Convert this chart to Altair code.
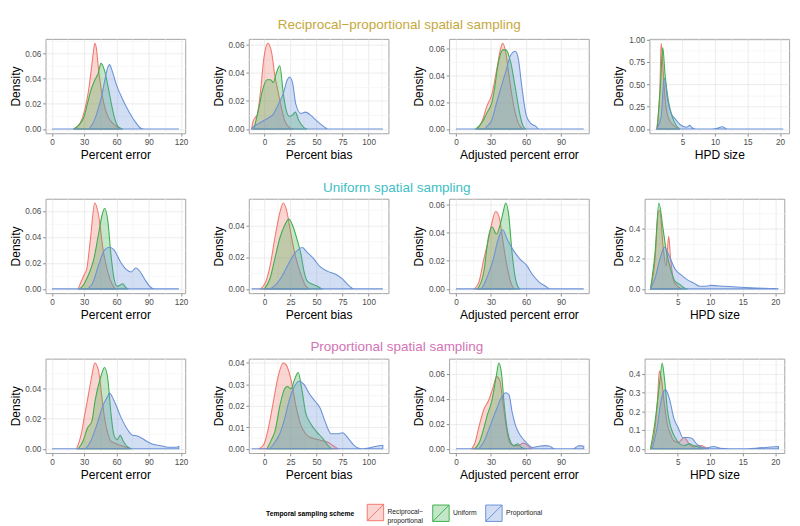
import altair as alt
import pandas as pd

FONT = "Liberation Sans"

SCHEMES = ["Reciprocal-proportional", "Uniform", "Proportional"]
COLORS = ["#F0776E", "#3DAE4C", "#6A91D8"]

ROW_TITLES = ["Reciprocal\u2212proportional spatial sampling",
              "Uniform spatial sampling",
              "Proportional spatial sampling"]
ROW_COLORS = ["#C6A83C", "#3EC0C6", "#D373B6"]

METRICS = ["Percent error", "Percent bias", "Adjusted percent error", "HPD size"]
X_DOMAINS = [[-5.9, 123.9], [-15.0, 119.0], [-5.9, 113.8], [-0.1, 21.4]]
X_TICKS = [[0, 30, 60, 90, 120], [0, 25, 50, 75, 100], [0, 30, 60, 90], [5, 10, 15, 20]]
X_MINOR = [[15, 45, 75, 105], [-12.5, 12.5, 37.5, 62.5, 87.5, 112.5],
           [15, 45, 75, 105], [2.5, 7.5, 12.5, 17.5]]

Y_TICKS = [
    [[0, 0.02, 0.04, 0.06], [0, 0.02, 0.04, 0.06], [0, 0.02, 0.04, 0.06], [0, 0.25, 0.5, 0.75, 1.0]],
    [[0, 0.02, 0.04, 0.06], [0, 0.02, 0.04], [0, 0.02, 0.04, 0.06], [0, 0.2, 0.4]],
    [[0, 0.02, 0.04], [0, 0.01, 0.02, 0.03, 0.04], [0, 0.02, 0.04, 0.06], [0, 0.1, 0.2, 0.3, 0.4]],
]
Y_FORMATS = [[".2f", ".2f", ".2f", ".2f"], [".2f", ".2f", ".2f", ".1f"], [".2f", ".2f", ".2f", ".1f"]]

# ---------- Row 1: reciprocal-proportional spatial sampling ----------
R1_ERR_RP = [(20, 0), (24, 0.002), (28, 0.008), (31, 0.017), (34, 0.030), (37, 0.050), (39, 0.064),
             (40, 0.068), (41.5, 0.063), (43, 0.050), (45, 0.036), (48, 0.021), (52, 0.010),
             (56, 0.005), (60, 0.002), (64, 0)]
R1_ERR_U = [(20, 0), (25, 0.003), (30, 0.010), (33, 0.020), (36, 0.030), (40, 0.039), (43, 0.044),
            (45.6, 0.052), (49, 0.046), (53, 0.030), (57, 0.013), (60, 0.004), (63, 0.001), (66, 0)]
R1_ERR_P = [(0, 0), (34, 0), (37, 0.003), (40, 0.008), (43, 0.016), (46, 0.025), (49, 0.038),
            (52, 0.049), (53.5, 0.051), (56, 0.046), (60, 0.035), (66, 0.023), (72, 0.013),
            (78, 0.005), (82, 0.001), (86, 0), (118, 0)]

R1_BIAS_RP = [(-12.3, 0), (-11, 0.005), (-9, 0.008), (-7, 0.010), (-3.7, 0.027), (-0.6, 0.050),
              (3.4, 0.061), (7, 0.054), (10, 0.038), (13, 0.027), (16, 0.016), (19.4, 0.006),
              (24, 0.001), (28, 0)]
R1_BIAS_U = [(-10, 0), (-5, 0.016), (-2, 0.027), (2.5, 0.035), (6, 0.035), (8.5, 0.033),
             (11.5, 0.040), (14.8, 0.045), (18, 0.026), (21, 0.013), (24, 0.009), (27, 0.010),
             (29.6, 0.012), (33, 0.006), (38, 0.001), (41, 0)]
R1_BIAS_P = [(-12.3, 0), (-10, 0.002), (-5, 0.004), (-0.6, 0.006), (4, 0.008), (8, 0.010),
             (13, 0.017), (18, 0.025), (22, 0.035), (24, 0.037), (27, 0.033), (30, 0.018),
             (35, 0.011), (39.5, 0.012), (44, 0.010), (50, 0.006), (56.5, 0.002), (61, 0), (113.6, 0)]

R1_ADJ_RP = [(18.4, 0), (22.4, 0.006), (26.5, 0.017), (30.8, 0.026), (34.6, 0.043), (38.6, 0.061),
             (40, 0.064), (42.7, 0.057), (45.4, 0.040), (49.5, 0.017), (53.5, 0.004), (57, 0)]
R1_ADJ_U = [(17, 0), (22.4, 0.005), (26.5, 0.012), (30.8, 0.020), (33, 0.030), (36, 0.048),
            (40, 0.059), (42.7, 0.059), (46.8, 0.050), (50.8, 0.031), (55, 0.010), (57.6, 0.002), (60, 0)]
R1_ADJ_P = [(0, 0), (24, 0), (26.5, 0.002), (30.8, 0.007), (34.6, 0.019), (38.6, 0.031),
            (42.7, 0.043), (46.8, 0.055), (50.8, 0.058), (53.5, 0.052), (56.2, 0.033),
            (60.3, 0.010), (64.3, 0.004), (68.4, 0.002), (71, 0), (109.5, 0)]

R1_HPD_RP = [(1.0, 0), (1.5, 0.43), (1.7, 0.96), (2.1, 0.54), (2.44, 0.25), (2.9, 0.11),
             (3.6, 0.04), (4.4, 0)]
R1_HPD_U = [(1.1, 0), (1.6, 0.5), (1.95, 0.91), (2.3, 0.61), (2.8, 0.32), (3.4, 0.14),
            (4.1, 0.03), (4.6, 0)]
R1_HPD_P = [(1.0, 0), (1.7, 0.14), (2.2, 0.57), (2.7, 0.32), (3.2, 0.18), (3.9, 0.11), (4.6, 0.05),
            (5.6, 0.02), (6.1, 0.04), (6.5, 0.01), (7, 0), (9.6, 0), (10.2, 0.005), (11.1, 0.025),
            (11.9, 0), (20.5, 0)]

# ---------- Row 2: uniform spatial sampling ----------
R2_ERR_RP = [(24.5, 0), (27.4, 0.006), (29.4, 0.010), (32.3, 0.015), (36, 0.040), (39.8, 0.066),
             (43.3, 0.057), (47.6, 0.030), (51.9, 0.013), (56.3, 0.003), (59, 0)]
R2_ERR_U = [(26, 0), (30, 0.004), (34.6, 0.012), (39, 0.023), (43.3, 0.042), (46.7, 0.057),
            (49, 0.062), (52, 0.052), (54.8, 0.027), (57.7, 0.008), (60.6, 0.002), (63.5, 0.003),
            (65.8, 0.004), (68.7, 0.001), (71, 0)]
R2_ERR_P = [(0, 0), (31.7, 0), (37.5, 0.004), (43.3, 0.018), (49, 0.030), (53.4, 0.032),
            (57.7, 0.030), (63.5, 0.021), (69, 0.015), (73.6, 0.013), (78, 0.016), (82.2, 0.013),
            (86.5, 0.007), (90.9, 0.002), (95, 0), (118, 0)]

R2_BIAS_RP = [(-3.7, 0), (1, 0.004), (5.6, 0.015), (10, 0.032), (14.8, 0.048), (18, 0.054),
              (21, 0.050), (25.6, 0.034), (30, 0.020), (35, 0.009), (39.5, 0.002), (43, 0)]
R2_BIAS_U = [(0, 0), (5.6, 0.007), (10, 0.019), (14.8, 0.032), (19.4, 0.040), (23.5, 0.044),
             (27, 0.040), (31.8, 0.030), (35, 0.022), (38, 0.011), (41, 0.005), (45.7, 0.003),
             (50, 0.002), (55, 0)]
R2_BIAS_P = [(-12.3, 0), (4, 0), (10, 0.002), (16, 0.007), (22.5, 0.015), (28.7, 0.022),
             (33, 0.025), (36.4, 0.026), (41, 0.023), (47.2, 0.019), (53.4, 0.014), (61, 0.011),
             (68.8, 0.009), (75.3, 0.006), (81, 0.002), (85.8, 0), (113.6, 0)]

R2_ADJ_RP = [(15.7, 0), (19.7, 0.005), (23.8, 0.021), (27.8, 0.035), (30.5, 0.046), (34, 0.055),
             (37.3, 0.050), (40, 0.035), (43.5, 0.017), (46.8, 0.005), (49.5, 0)]
R2_ADJ_U = [(18.4, 0), (23.8, 0.012), (27.8, 0.037), (31, 0.044), (34.6, 0.039), (37.3, 0.044),
            (40, 0.053), (42.7, 0.061), (45.4, 0.051), (48, 0.026), (50.8, 0.008), (53.5, 0.001), (55, 0)]
R2_ADJ_P = [(0, 0), (21, 0), (26.5, 0.008), (31.9, 0.021), (36, 0.035), (40, 0.042), (44, 0.035),
            (49.5, 0.027), (55, 0.021), (60.3, 0.017), (65.7, 0.010), (71, 0.005), (76.5, 0.002),
            (80.5, 0), (109.5, 0)]

R2_HPD_RP = [(0.8, 0), (1.5, 0.196), (2.0, 0.51), (2.24, 0.52), (2.7, 0.30), (3.2, 0.15),
             (3.6, 0.35), (3.9, 0.20), (4.4, 0.05), (4.9, 0.02), (5.6, 0)]
R2_HPD_U = [(0.8, 0), (1.5, 0.24), (2.1, 0.57), (2.7, 0.41), (3.2, 0.26), (3.9, 0.13), (4.6, 0.05),
            (5.3, 0.03), (6, 0.006), (6.5, 0)]
R2_HPD_P = [(0.8, 0), (1.5, 0.07), (2.24, 0.196), (2.95, 0.276), (3.67, 0.22), (4.6, 0.13),
            (5.6, 0.09), (6.5, 0.06), (7.5, 0.038), (8.4, 0.017), (9.4, 0.017), (10.1, 0.023),
            (12.2, 0.017), (14.6, 0.011), (17, 0.006), (20, 0.002), (20.5, 0)]

# ---------- Row 3: proportional spatial sampling ----------
R3_ERR_RP = [(23, 0), (27.4, 0.010), (30.3, 0.022), (33.2, 0.033), (37, 0.048), (39.8, 0.057),
             (43.3, 0.052), (46, 0.037), (49, 0.020), (52, 0.010), (54.8, 0.005), (57.7, 0.004),
             (60.6, 0.003), (65, 0.002), (69.2, 0.001), (73, 0)]
R3_ERR_U = [(24.5, 0), (28.8, 0.005), (33.2, 0.014), (37, 0.018), (40.4, 0.033), (44.7, 0.046),
            (49, 0.054), (52, 0.046), (54.8, 0.024), (57.7, 0.009), (60.6, 0.006), (63.5, 0.009),
            (66.3, 0.005), (70.7, 0.001), (74, 0)]
R3_ERR_P = [(0, 0), (30.3, 0), (36, 0.005), (41.8, 0.016), (47.6, 0.029), (52, 0.035),
            (53.4, 0.037), (57.7, 0.032), (63.5, 0.022), (69.2, 0.014), (75, 0.009), (79.3, 0.0085),
            (83.7, 0.007), (88, 0.005), (93.8, 0.003), (101, 0.002), (108, 0.001), (115.4, 0.001),
            (118, 0.0015)]

R3_BIAS_RP = [(-5.2, 0), (-0.6, 0.002), (4, 0.010), (8.6, 0.022), (13.3, 0.034), (18, 0.040),
              (21, 0.039), (25.6, 0.032), (30.2, 0.020), (35, 0.011), (39.5, 0.007), (45.7, 0.005),
              (53.4, 0.004), (61, 0.003), (65.7, 0.0015), (70.4, 0)]
R3_BIAS_U = [(2.5, 0), (7, 0.0045), (10, 0.008), (14.8, 0.020), (19.4, 0.028), (22, 0.029),
             (25.6, 0.028), (28.7, 0.032), (32.4, 0.0355), (35.8, 0.028), (39.5, 0.017), (44, 0.012),
             (50, 0.008), (56.5, 0.0045), (61, 0.0015), (64, 0)]
R3_BIAS_P = [(-12.3, 0), (4, 0), (10, 0.003), (14.8, 0.007), (19.4, 0.014), (24, 0.023),
             (28.7, 0.029), (33.3, 0.0315), (38, 0.030), (42.7, 0.026), (48.8, 0.022), (53.4, 0.019),
             (58, 0.013), (64, 0.007), (70.4, 0.007), (75, 0.0075), (81, 0.0045), (87.3, 0.001),
             (93.5, 0), (100, 0.0003), (106, 0.001), (112, 0.0015), (113.6, 0.0015)]

R3_ADJ_RP = [(13.4, 0), (16, 0.004), (20, 0.019), (24, 0.032), (28, 0.039), (32, 0.050),
             (34.8, 0.058), (37.5, 0.055), (40, 0.039), (42.8, 0.019), (45.5, 0.006), (49.5, 0.0025),
             (53.6, 0.0025), (57.6, 0.0045), (61.6, 0.0025), (64.3, 0)]
R3_ADJ_U = [(16, 0), (20, 0.005), (24, 0.017), (26.8, 0.027), (30.8, 0.039), (34.8, 0.060),
            (36.7, 0.069), (38.8, 0.062), (41.5, 0.034), (44.2, 0.014), (47, 0.005), (49.5, 0.0025),
            (52.8, 0.004), (56.2, 0.001), (60.3, 0)]
R3_ADJ_P = [(0, 0), (18.7, 0), (24, 0.006), (29.5, 0.019), (34.8, 0.032), (38.8, 0.041),
            (42.8, 0.045), (45.5, 0.043), (48.2, 0.029), (50.9, 0.019), (54.9, 0.011), (60.3, 0.005),
            (65.6, 0.001), (71, 0.002), (76.3, 0.0025), (80.4, 0.002), (84.4, 0), (100.4, 0),
            (105.8, 0.0025), (109.5, 0.002)]

R3_HPD_RP = [(0.8, 0), (1.5, 0.11), (1.9, 0.27), (2.16, 0.417), (2.5, 0.37), (2.97, 0.23),
             (3.4, 0.13), (3.9, 0.077), (4.4, 0.043), (5.1, 0.034), (5.6, 0.05), (6, 0.06),
             (6.75, 0.026), (7.46, 0.009), (8.2, 0.017), (8.6, 0.017), (9.35, 0.005), (9.8, 0)]
R3_HPD_U = [(0.8, 0), (1.5, 0.146), (2.26, 0.37), (2.6, 0.46), (2.97, 0.37), (3.4, 0.21),
            (3.9, 0.12), (4.6, 0.06), (5.3, 0.026), (6, 0.017), (6.75, 0.026), (7.46, 0.017),
            (8.2, 0.009), (8.9, 0)]
R3_HPD_P = [(1.07, 0), (1.8, 0.11), (2.5, 0.27), (3.1, 0.317), (3.7, 0.27), (4.4, 0.163),
            (5.1, 0.11), (5.8, 0.06), (6.5, 0.06), (7.2, 0.055), (7.9, 0.026), (8.6, 0.009),
            (9.35, 0.003), (10.5, 0.012), (11.5, 0.003), (14.6, 0), (17, 0.003), (19.3, 0.009),
            (20.5, 0.012)]

CURVES = [
    [(R1_ERR_RP, R1_ERR_U, R1_ERR_P), (R1_BIAS_RP, R1_BIAS_U, R1_BIAS_P),
     (R1_ADJ_RP, R1_ADJ_U, R1_ADJ_P), (R1_HPD_RP, R1_HPD_U, R1_HPD_P)],
    [(R2_ERR_RP, R2_ERR_U, R2_ERR_P), (R2_BIAS_RP, R2_BIAS_U, R2_BIAS_P),
     (R2_ADJ_RP, R2_ADJ_U, R2_ADJ_P), (R2_HPD_RP, R2_HPD_U, R2_HPD_P)],
    [(R3_ERR_RP, R3_ERR_U, R3_ERR_P), (R3_BIAS_RP, R3_BIAS_U, R3_BIAS_P),
     (R3_ADJ_RP, R3_ADJ_U, R3_ADJ_P), (R3_HPD_RP, R3_HPD_U, R3_HPD_P)],
]

PANEL_W = 145
PANEL_H = 98

fill_scale = alt.Scale(domain=SCHEMES, range=COLORS)
# same mapping, listed in another order so that the outline legend stays separate
stroke_scale = alt.Scale(domain=SCHEMES[::-1], range=COLORS[::-1])

LABEL_EXPR = ("datum.value == 'Reciprocal-proportional' ? "
              "['Reciprocal\u2212', 'proportional'] : datum.label")
SYMBOL = "M-1,-1H1V1H-1Z M-1,1L1,-1"
LEG_X, LEG_Y = 229, 482

common = dict(
    title="Temporal sampling scheme", orient="none", legendX=LEG_X, legendY=LEG_Y,
    direction="horizontal", titleOrient="left", titleFontSize=7, titleFontWeight="bold",
    titleFont=FONT, titleColor="#000000", titlePadding=12, labelFontSize=7, labelFont=FONT,
    labelColor="#222222", labelOffset=3, symbolType=SYMBOL, symbolSize=290, symbolStrokeWidth=1,
    columnPadding=6, labelLimit=120, labelExpr=LABEL_EXPR, values=SCHEMES,
)
fill_legend = alt.Legend(symbolOpacity=0.3, symbolStrokeColor="transparent", **common)
stroke_legend = alt.Legend(symbolFillColor="transparent", titleOpacity=0, labelOpacity=0, **common)


def make_panel(r, c):
    rows = []
    for scheme, pts in zip(SCHEMES, CURVES[r][c]):
        for x, y in pts:
            rows.append({"scheme": scheme, "x": x, "y": y})
    d = pd.DataFrame(rows)
    ymax = d["y"].max()
    ydom = [-0.05 * ymax, 1.05 * ymax]
    ytk = Y_TICKS[r][c]
    step = ytk[1] - ytk[0]
    yminor = [v + step / 2 for v in ytk if v + step / 2 < ydom[1]]
    xs = alt.Scale(domain=X_DOMAINS[c], nice=False, zero=False)
    ys = alt.Scale(domain=ydom, nice=False, zero=False)
    base = alt.Chart(d)
    minor = base.mark_line(opacity=0).encode(
        x=alt.X("x:Q", scale=xs, axis=alt.Axis(orient="top", values=X_MINOR[c], labels=False,
                                                ticks=False, domain=False, title=None,
                                                grid=True, gridColor="#F4F4F4")),
        y=alt.Y("y:Q", scale=ys, axis=alt.Axis(orient="right", values=yminor, labels=False,
                                                ticks=False, domain=False, title=None,
                                                grid=True, gridColor="#F4F4F4")),
    )
    area = base.mark_area(interpolate="monotone", fillOpacity=0.3, strokeWidth=1.1,
                          strokeOpacity=1).encode(
        x=alt.X("x:Q", scale=xs, axis=alt.Axis(values=X_TICKS[c], title=METRICS[c], grid=True)),
        y=alt.Y("y:Q", scale=ys, stack=None,
                axis=alt.Axis(values=ytk, format=Y_FORMATS[r][c], title="Density", grid=True)),
        fill=alt.Fill("scheme:N", scale=fill_scale, legend=fill_legend),
        stroke=alt.Stroke("scheme:N", scale=stroke_scale, legend=stroke_legend),
    )
    return alt.layer(minor, area).resolve_axis(x="independent", y="independent").properties(
        width=PANEL_W, height=PANEL_H)


rows = []
for r in range(3):
    rows.append(alt.hconcat(*[make_panel(r, c) for c in range(4)], spacing=23,
                            title=alt.TitleParams(ROW_TITLES[r], color=ROW_COLORS[r], fontSize=14,
                                                  font=FONT, fontWeight="normal", anchor="middle",
                                                  offset=4)))

chart = alt.vconcat(*rows, spacing=19).properties(padding={"left": 0, "right": 2, "top": 0, "bottom": 0}).configure_view(
    stroke="#A0A0A0", strokeWidth=1
).configure_axis(
    labelFont=FONT, labelFontSize=8.5, labelColor="#4D4D4D", titleFont=FONT, titleFontSize=12.5,
    titleFontWeight="normal", titleColor="#000000", tickColor="#8A8A8A", tickSize=3,
    labelPadding=2, titlePadding=3, domain=False, gridColor="#E6E6E6", gridWidth=0.8,
)

chart.save("out.html", embed_options={"renderer": "svg", "actions": False})
